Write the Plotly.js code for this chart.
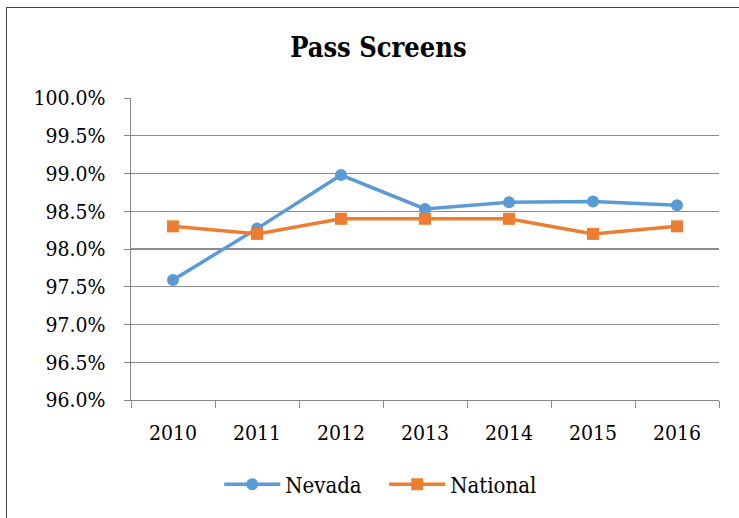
<!DOCTYPE html>
<html>
<head>
<meta charset="utf-8">
<script src="https://cdn.plot.ly/plotly-3.0.1.min.js"></script>
<style>
  body { margin: 0; background: #fff; }
  #frame { position: absolute; left: 6px; top: 7px; width: 760px; height: 540px; border: 1.5px solid #444; }
  #chart { position: absolute; left: 0; top: 0; width: 739px; height: 518px; }
</style>
</head>
<body>
<div id="frame"></div>
<div id="chart"></div>
<script>
const years = ['2010', '2011', '2012', '2013', '2014', '2015', '2016'];
const nevada = [97.59, 98.27, 98.98, 98.53, 98.62, 98.63, 98.58];
const national = [98.30, 98.20, 98.40, 98.40, 98.40, 98.20, 98.30];
const yTicks = [96.0, 96.5, 97.0, 97.5, 98.0, 98.5, 99.0, 99.5, 100.0];

const serif = 'DejaVu Serif Condensed, DejaVu Serif';

let traces = [
    {
        name: 'Nevada',
        x: years,
        y: nevada,
        mode: 'lines+markers',
        type: 'scatter',
        line: { color: '#5B9BD5', width: 3.5 },
        marker: { symbol: 'circle', size: 12, color: '#5B9BD5' }
    },
    {
        name: 'National',
        x: years,
        y: national,
        mode: 'lines+markers',
        type: 'scatter',
        line: { color: '#ED7D31', width: 3.5 },
        marker: { symbol: 'square', size: 12, color: '#ED7D31' }
    }
];

let layout = {
    width: 739,
    height: 518,
    margin: { l: 131, r: 20, t: 98, b: 118 },
    paper_bgcolor: 'rgba(0,0,0,0)',
    plot_bgcolor: 'rgba(0,0,0,0)',
    font: { family: serif, size: 21, color: '#000' },
    title: {
        text: '<b>Pass Screens</b>',
        font: { family: serif, size: 27, color: '#000' },
        x: 0.512,
        xanchor: 'center',
        y: 0.908,
        yanchor: 'middle'
    },
    xaxis: {
        type: 'category',
        range: [-0.5, 6.5],
        showgrid: false,
        showline: true,
        linecolor: '#888',
        linewidth: 1.3,
        ticks: 'outside',
        tickson: 'boundaries',
        ticklen: 7,
        tickcolor: '#888',
        ticklabelstandoff: 13,
        tickfont: { family: serif, size: 21, color: '#000' }
    },
    yaxis: {
        range: [96, 100],
        tickvals: yTicks,
        ticktext: yTicks.map(v => v.toFixed(1) + '%'),
        showgrid: true,
        gridcolor: '#8c8c8c',
        gridwidth: 1.3,
        showline: true,
        linecolor: '#888',
        linewidth: 1.3,
        ticks: 'outside',
        ticklen: 6,
        tickcolor: '#888',
        ticklabelstandoff: 14,
        zeroline: false,
        tickfont: { family: serif, size: 21, color: '#000' }
    },
    showlegend: true,
    legend: {
        orientation: 'h',
        x: 0.15,
        xanchor: 'left',
        y: -0.28,
        yanchor: 'middle',
        font: { family: serif, size: 22, color: '#000' },
        itemwidth: 56,
        entrywidth: 94,
        bgcolor: 'rgba(0,0,0,0)'
    }
};

Plotly.newPlot('chart', traces, layout, { displayModeBar: false, staticPlot: true });
</script>
</body>
</html>
